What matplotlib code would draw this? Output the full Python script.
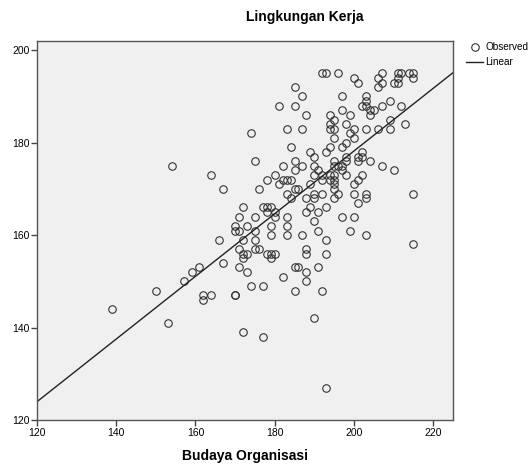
import numpy as np
import matplotlib
matplotlib.use("Agg")
import matplotlib.pyplot as plt
from matplotlib.lines import Line2D

plt.rcParams["font.family"] = ["Liberation Sans", "DejaVu Sans"]

# Budaya Organisasi (x) vs Lingkungan Kerja (y)
budaya = [
    192, 193, 196, 207, 211, 212, 214, 215,
    200, 206, 211, 215,
    201, 207, 210, 211,
    185, 206,
    187, 197, 203,
    203, 209,
    181, 185, 202, 203, 207, 212,
    197, 204, 205,
    188, 194, 199, 204,
    195, 209,
    194, 198, 213,
    183, 187, 194, 195, 200, 203, 206, 209,
    174, 199,
    195, 200,
    198,
    184, 194, 197,
    189, 193, 202,
    190, 198, 201, 202,
    175, 185, 195, 198, 201, 204,
    154, 182, 187, 190, 195, 196, 197, 207,
    185, 191, 197, 210,
    164, 180, 190, 192, 194, 195, 198, 202,
    178, 182, 183, 184, 192, 194, 195, 201,
    181, 189, 195, 200,
    167, 176, 185, 186, 195,
    183, 190, 192, 196, 200, 203, 215,
    184, 188, 190, 195, 203,
    201,
    172, 177, 178, 179, 189, 193,
    178, 180, 188, 191,
    171, 175, 180, 183, 197, 200,
    190,
    170, 173, 179, 183,
    170, 171, 175, 191, 199,
    179, 183, 187, 203,
    166, 172, 175, 193,
    215,
    171, 175, 176, 188,
    172, 173, 178, 179, 180, 188, 193,
    172, 179,
    167,
    161, 171, 185, 186, 191,
    159, 173, 188,
    182,
    157, 188,
    174, 177,
    150, 185, 192,
    162, 164, 170, 170,
    162,
    139,
    190,
    153,
    172,
    177,
    193,
]
lingkungan = [
    195, 195, 195, 195, 195, 195, 195, 195,
    194, 194, 194, 194,
    193, 193, 193, 193,
    192, 192,
    190, 190, 190,
    189, 189,
    188, 188, 188, 188, 188, 188,
    187, 187, 187,
    186, 186, 186, 186,
    185, 185,
    184, 184, 184,
    183, 183, 183, 183, 183, 183, 183, 183,
    182, 182,
    181, 181,
    180,
    179, 179, 179,
    178, 178, 178,
    177, 177, 177, 177,
    176, 176, 176, 176, 176, 176,
    175, 175, 175, 175, 175, 175, 175, 175,
    174, 174, 174, 174,
    173, 173, 173, 173, 173, 173, 173, 173,
    172, 172, 172, 172, 172, 172, 172, 172,
    171, 171, 171, 171,
    170, 170, 170, 170, 170,
    169, 169, 169, 169, 169, 169, 169,
    168, 168, 168, 168, 168,
    167,
    166, 166, 166, 166, 166, 166,
    165, 165, 165, 165,
    164, 164, 164, 164, 164, 164,
    163,
    162, 162, 162, 162,
    161, 161, 161, 161, 161,
    160, 160, 160, 160,
    159, 159, 159, 159,
    158,
    157, 157, 157, 157,
    156, 156, 156, 156, 156, 156, 156,
    155, 155,
    154,
    153, 153, 153, 153, 153,
    152, 152, 152,
    151,
    150, 150,
    149, 149,
    148, 148, 148,
    147, 147, 147, 147,
    146,
    144,
    142,
    141,
    139,
    138,
    127,
]

# linear fit as shown in the output
fit_intercept = 42.6
fit_slope = 0.678

x_ticks = [120, 140, 160, 180, 200, 220]
y_ticks = [120, 140, 160, 180, 200]

W, H = 528, 466
fig = plt.figure(figsize=(W / 100, H / 100), dpi=100)
ax = fig.add_axes([37 / W, 1 - 420 / H, (453 - 37) / W, (420 - 41) / H])
ax.set_facecolor("#f0f0f0")

mk = dict(marker="o", ms=5.4, mfc="none", mec="#333333", mew=0.8)
ax.plot(budaya, lingkungan, ls="none", **mk)

xs = np.array([120, 225])
ax.plot(xs, fit_intercept + fit_slope * xs, color="#222222", lw=1)

ax.set_xlim(120, 225)
ax.set_ylim(120, 202)
ax.set_xticks(x_ticks)
ax.set_yticks(y_ticks)
ax.tick_params(direction="out", length=4, width=1, color="#444444",
               labelsize=7.5, pad=1.5)
for s in ax.spines.values():
    s.set_color("#555555")
    s.set_linewidth(1)

fig.text(305 / W, 1 - 16.5 / H, "Lingkungan Kerja", ha="center", va="center",
         fontsize=10, fontweight="bold")
fig.text(245 / W, 1 - 456 / H, "Budaya Organisasi", ha="center", va="center",
         fontsize=10, fontweight="bold")

handles = [
    Line2D([], [], ls="none", **mk),
    Line2D([], [], color="#222222", lw=1),
]
fig.legend(handles, ["Observed", "Linear"], loc="upper left",
           bbox_to_anchor=(466 / W, 1 - 42 / H), frameon=False, fontsize=7.2,
           handlelength=1.7, handletextpad=0.25, borderpad=0, borderaxespad=0,
           labelspacing=0.5)

fig.savefig("out.png", dpi=100)
